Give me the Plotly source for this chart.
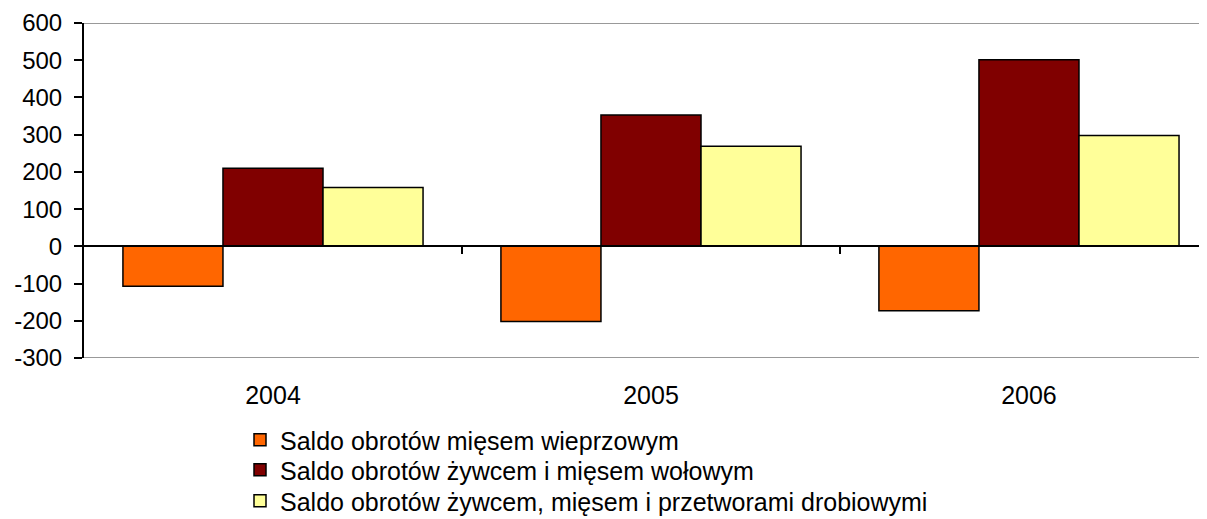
import plotly.graph_objects as go

years = ["2004", "2005", "2006"]
pork = [-107, -202, -173]
beef = [210, 353, 501]
poultry = [158, 269, 298]
names = [
    "Saldo obrotów mięsem wieprzowym",
    "Saldo obrotów żywcem i mięsem wołowym",
    "Saldo obrotów żywcem, mięsem i przetworami drobiowymi",
]
colors = ["#FF6600", "#800000", "#FFFF99"]
yticks = [600, 500, 400, 300, 200, 100, 0, -100, -200, -300]
yticktext = [str(v) for v in yticks]

FONT = "Liberation Sans, Arial, sans-serif"
legend_ids = ["legend", "legend2", "legend3"]

# layout in figure pixels (the page body adds an 8px offset)
OFF = 8
plot_left, plot_top, plot_right, plot_bottom = 84 - OFF, 23 - OFF, 1207 - OFF, 358 - OFF
plot_w, plot_h = plot_right - plot_left, plot_bottom - plot_top
legend_rows_px = [440 - OFF, 470 - OFF, 501 - OFF]
legend_left_px = 240 - OFF

fig = go.Figure()
for vals, nm, col, lg in zip([pork, beef, poultry], names, colors, legend_ids):
    fig.add_trace(go.Bar(x=[0, 1, 2], y=vals, name=nm, legend=lg,
                         marker=dict(color=col, line=dict(color="black", width=1.5))))

fig.add_trace(go.Scatter(x=[None], y=[None], xaxis="x2", showlegend=False, hoverinfo="skip"))

legend_cfg = {}
for lg, py in zip(legend_ids, legend_rows_px):
    legend_cfg[lg] = dict(x=(legend_left_px - plot_left) / plot_w, y=(plot_bottom - py) / plot_h,
                          xanchor="left", yanchor="middle", font=dict(size=25),
                          itemwidth=30, bgcolor="rgba(0,0,0,0)", borderwidth=0)

fig.update_layout(
    width=1207, height=519,
    margin=dict(l=plot_left, r=1207 - plot_right, t=plot_top, b=519 - plot_bottom, autoexpand=False),
    paper_bgcolor="white", plot_bgcolor="white",
    barmode="group", bargap=0.206, bargroupgap=0,
    font=dict(family=FONT, size=24, color="black"),
    showlegend=True,
    xaxis=dict(range=[-0.5, 2.471], tickvals=[0, 1, 2], ticktext=years, showline=False,
               showgrid=False, zeroline=False, ticks="", ticklabelstandoff=20,
               tickfont=dict(size=25), automargin=False),
    xaxis2=dict(overlaying="x", matches="x", anchor="free", position=1/3, showline=True,
                linecolor="black", linewidth=2, ticks="outside", tickvals=[0.5, 1.5],
                ticklen=7, tickwidth=2, tickcolor="black", showticklabels=False, showgrid=False,
                zeroline=False, automargin=False),
    yaxis=dict(range=[-300, 600], tickvals=yticks, ticktext=yticktext, showline=True,
               linecolor="black", linewidth=2,
               ticks="outside", ticklen=8, tickwidth=2, tickcolor="black", showgrid=False,
               zeroline=False, ticklabelstandoff=7, automargin=False),
    shapes=[
        dict(type="line", xref="paper", yref="y", x0=0, x1=1, y0=600, y1=600, line=dict(color="#999999", width=2), layer="below"),
        dict(type="line", xref="paper", yref="y", x0=0, x1=1, y0=-300, y1=-300, line=dict(color="#999999", width=2), layer="below"),
    ],
    **legend_cfg,
)
fig.write_html("out.html")
